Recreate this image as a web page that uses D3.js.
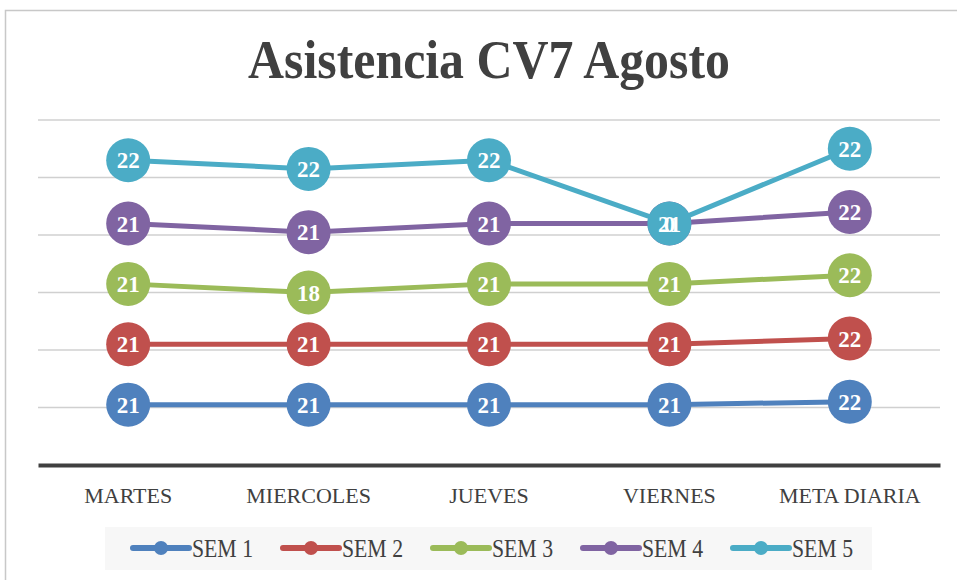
<!DOCTYPE html>
<html>
<head>
<meta charset="utf-8">
<script src="https://cdn.jsdelivr.net/npm/d3@7"></script>
<style>
  body { margin: 0; background: #fff; }
  svg { display: block; }
</style>
</head>
<body>
<svg width="957" height="580"></svg>
<script>
// chart data
var categories = ["MARTES", "MIERCOLES", "JUEVES", "VIERNES", "META DIARIA"];
var seriesNames = ["SEM 1", "SEM 2", "SEM 3", "SEM 4", "SEM 5"];
var sem1 = [21, 21, 21, 21, 22];
var sem2 = [21, 21, 21, 21, 22];
var sem3 = [21, 18, 21, 21, 22];
var sem4 = [21, 21, 21, 21, 22];
var sem5 = [22, 22, 22, 0, 22];
var yTicks = [20, 40, 60, 80, 100, 120];
var colors = ["#4f81bd", "#c0504d", "#9bbb59", "#8064a2", "#4bacc6"];

function drawChart(){

  var margin = { top: 120, right: 17, bottom: 115, left: 38 };
  var width = 957 - margin.left - margin.right;
  var height = 580 - margin.top - margin.bottom;

  var svg = d3.select("svg");

  // outer chart border (only top and left visible in the crop)
  svg.append("rect")
    .attr("x", 5.5).attr("y", 10.5)
    .attr("width", 1000).attr("height", 700)
    .attr("fill", "#fff")
    .attr("stroke", "#c8c8c8")
    .attr("stroke-width", 1.5);

  svg.append("text")
    .attr("x", 489).attr("y", 78)
    .attr("text-anchor", "middle")
    .attr("textLength", 482)
    .attr("lengthAdjust", "spacingAndGlyphs")
    .style("font-family", "'Liberation Serif', serif")
    .style("font-weight", "bold")
    .style("font-size", "55px")
    .style("fill", "#404040")
    .text("Asistencia CV7 Agosto");

  var g = svg.append("g")
    .attr("transform", "translate(" + margin.left + "," + margin.top + ")");

  var x = d3.scaleBand().domain(categories).range([0, width]);
  var y = d3.scaleLinear().domain([0, 120]).range([height, 0]);

  // stack the series
  var raw = [sem1, sem2, sem3, sem4, sem5];
  var series = raw.map(function(vals, s){
    return {
      name: seriesNames[s],
      color: colors[s],
      values: vals.map(function(v, i){
        var cum = 0;
        for (var k = 0; k <= s; k++) cum += raw[k][i];
        return { category: categories[i], value: v, total: cum };
      })
    };
  });

  // grid lines
  g.selectAll(".grid")
    .data(yTicks)
    .enter()
    .append("line")
    .attr("class", "grid")
    .attr("x1", 0).attr("x2", width)
    .attr("y1", function(d){ return y(d); })
    .attr("y2", function(d){ return y(d); })
    .attr("stroke", "#d0d0d0")
    .attr("stroke-width", 1.5);

  // x axis
  var xAxis = g.append("g")
    .attr("class", "x axis")
    .attr("transform", "translate(0," + height + ")")
    .call(d3.axisBottom(x).tickSize(0).tickPadding(22));
  xAxis.select(".domain")
    .attr("stroke", "#404040")
    .attr("stroke-width", 4);
  xAxis.selectAll("text")
    .style("font-family", "'Liberation Serif', serif")
    .style("font-size", "22px")
    .style("fill", "#404040");

  var line = d3.line()
    .x(function(d){ return x(d.category) + x.bandwidth() / 2; })
    .y(function(d){ return y(d.total); });

  series.forEach(function(s){
    var sg = g.append("g").attr("class", "series");
    sg.append("path")
      .datum(s.values)
      .attr("d", line)
      .attr("fill", "none")
      .attr("stroke", s.color)
      .attr("stroke-width", 5);
    sg.selectAll("circle")
      .data(s.values)
      .enter()
      .append("circle")
      .attr("cx", function(d){ return x(d.category) + x.bandwidth() / 2; })
      .attr("cy", function(d){ return y(d.total); })
      .attr("r", 22)
      .attr("fill", s.color);
  });

  // data labels on top of every marker
  series.forEach(function(s){
    g.append("g").selectAll("text")
      .data(s.values)
      .enter()
      .append("text")
      .attr("x", function(d){ return x(d.category) + x.bandwidth() / 2; })
      .attr("y", function(d){ return y(d.total) + 8; })
      .attr("text-anchor", "middle")
      .style("font-family", "'Liberation Serif', serif")
      .style("font-weight", "bold")
      .style("font-size", "23px")
      .style("fill", "#fff")
      .text(function(d){ return d.value; });
  });

  // legend
  var legend = svg.append("g").attr("class", "legend");
  legend.append("rect")
    .attr("x", 105).attr("y", 527)
    .attr("width", 767).attr("height", 43)
    .attr("fill", "#f7f7f7");

  var item = legend.selectAll(".item")
    .data(series)
    .enter()
    .append("g")
    .attr("class", "item")
    .attr("transform", function(d, i){ return "translate(" + (133 + i * 150) + ",548)"; });
  item.append("line")
    .attr("x1", 0).attr("x2", 56)
    .attr("stroke", function(d){ return d.color; })
    .attr("stroke-width", 6)
    .attr("stroke-linecap", "round");
  item.append("circle")
    .attr("cx", 28).attr("r", 7)
    .attr("fill", function(d){ return d.color; });
  item.append("text")
    .attr("x", 59).attr("y", 9)
    .attr("textLength", 61)
    .attr("lengthAdjust", "spacingAndGlyphs")
    .style("font-family", "'Liberation Serif', serif")
    .style("font-size", "25px")
    .style("fill", "#404040")
    .text(function(d){ return d.name; });

  return;

}// end function drawChart()

drawChart();
</script>
</body>
</html>
